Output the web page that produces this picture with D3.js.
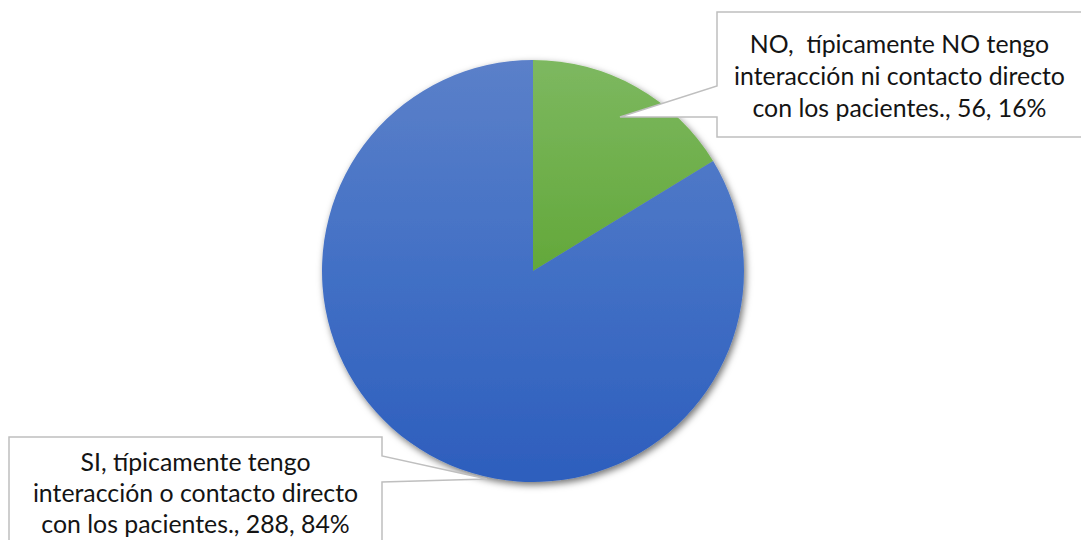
<!DOCTYPE html>
<html>
<head>
<meta charset="utf-8">
<script src="https://cdn.jsdelivr.net/npm/d3@7"></script>
<style>
  html, body { margin: 0; padding: 0; background: #fff; }
  svg { display: block; }
  text { font-family: Lato, "Noto Sans", sans-serif; fill: #141414; white-space: pre; }
</style>
</head>
<body>
<svg id="chart" width="1081" height="540"></svg>
<script>
// Survey answers: direct interaction with patients
const categories = [
  "NO,  típicamente NO tengo\ninteracción ni contacto directo\ncon los pacientes.",
  "SI, típicamente tengo\ninteracción o contacto directo\ncon los pacientes."
];
const counts = [56, 288];
const colorTop = ["#7db860", "#5b80c9"];
const colorMid = ["#63a83a", "#4270c5"];
const colorBottom = ["#559b2c", "#2d5ebd"];

const W = 1081, H = 540;
const cx = 533, cy = 271, radius = 211;

const svg = d3.select("#chart");
const defs = svg.append("defs");

const total = d3.sum(counts);
const data = categories.map((c, i) => ({ name: c, value: counts[i], i }));

// vertical gradient per slice, spanning the whole pie (pie-local coordinates)
data.forEach((d, i) => {
  const g = defs.append("linearGradient")
    .attr("id", "grad" + i)
    .attr("gradientUnits", "userSpaceOnUse")
    .attr("x1", 0).attr("y1", -radius)
    .attr("x2", 0).attr("y2", radius);
  g.append("stop").attr("offset", "0%").attr("stop-color", colorTop[i]);
  g.append("stop").attr("offset", "50%").attr("stop-color", colorMid[i]);
  g.append("stop").attr("offset", "100%").attr("stop-color", colorBottom[i]);
});

const shadow = defs.append("filter").attr("id", "shadow")
  .attr("x", "-20%").attr("y", "-20%").attr("width", "140%").attr("height", "140%");
shadow.append("feDropShadow")
  .attr("dx", 2).attr("dy", 3).attr("stdDeviation", 3.5)
  .attr("flood-color", "#000").attr("flood-opacity", 0.55);

const pie = d3.pie().sort(null).value(d => d.value);
const arc = d3.arc().innerRadius(0).outerRadius(radius);
const arcs = pie(data);

const pieG = svg.append("g")
  .attr("transform", `translate(${cx},${cy})`)
  .attr("filter", "url(#shadow)");
pieG.selectAll("path")
  .data(arcs)
  .join("path")
  .attr("d", arc)
  .attr("fill", d => `url(#grad${d.data.i})`);

// callout boxes: box rect + pointer toward the slice
const callouts = [
  { box: [717, 12, 1088, 137], side: "left", p1: 86, p2: 117, tip: [620, 117], baselines: [53, 85, 117] },
  { box: [9, 437, 382, 560], side: "right", p1: 456, p2: 482, tip: [487, 479], baselines: [471, 502, 533] }
];

function calloutPath(c) {
  const [x0, y0, x1, y1] = c.box;
  const p = d3.path();
  if (c.side === "left") {
    p.moveTo(x0, y0); p.lineTo(x1, y0); p.lineTo(x1, y1); p.lineTo(x0, y1);
    p.lineTo(x0, c.p2); p.lineTo(c.tip[0], c.tip[1]); p.lineTo(x0, c.p1); p.closePath();
  } else {
    p.moveTo(x0, y0); p.lineTo(x1, y0); p.lineTo(x1, c.p1); p.lineTo(c.tip[0], c.tip[1]);
    p.lineTo(x1, c.p2); p.lineTo(x1, y1); p.lineTo(x0, y1); p.closePath();
  }
  return p.toString();
}

// font size fitted so the widest line spans its measured width
const probe = svg.append("text").attr("font-size", 24).text("interacción ni contacto directo");
const fontSize = 24 * 331 / probe.node().getComputedTextLength();
probe.remove();

arcs.forEach((a, i) => {
  const c = callouts[i];
  svg.append("path")
    .attr("d", calloutPath(c))
    .attr("fill", "#fff")
    .attr("stroke", "#bfbfbf")
    .attr("stroke-width", 1.5);
  const pct = Math.round(a.data.value / total * 100);
  const lines = (a.data.name + ", " + a.data.value + ", " + pct + "%").split("\n");
  const mid = (c.box[0] + c.box[2]) / 2 - (i === 0 ? 3 : 0);
  const t = svg.append("text")
    .attr("text-anchor", "middle")
    .attr("font-size", fontSize);
  lines.forEach((ln, k) => {
    t.append("tspan").attr("x", mid).attr("y", c.baselines[k]).text(ln);
  });
});
</script>
</body>
</html>
